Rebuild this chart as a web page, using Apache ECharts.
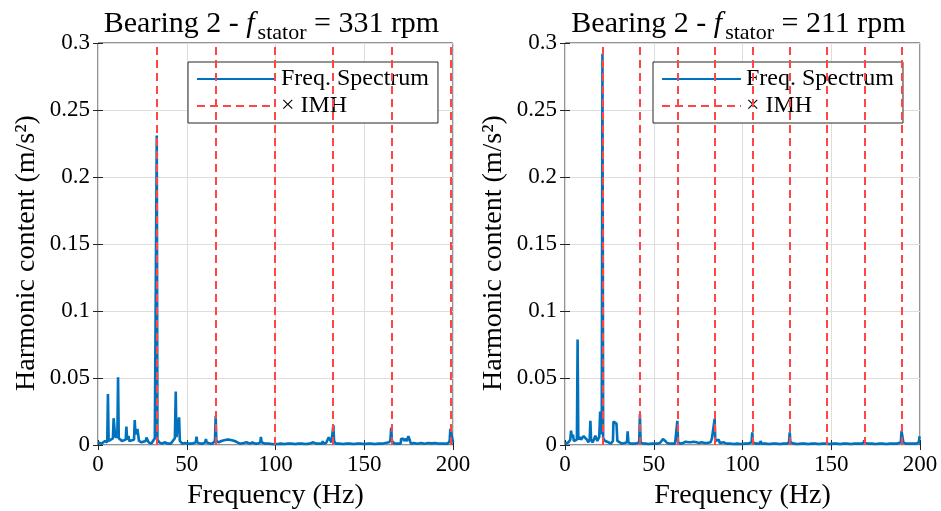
<!DOCTYPE html>
<html>
<head>
<meta charset="utf-8">
<script src="https://cdn.jsdelivr.net/npm/echarts@6/dist/echarts.min.js"></script>
<style>
html,body{margin:0;padding:0;background:#fff;}
#chart{width:941px;height:511px;}
</style>
</head>
<body>
<div id="chart"></div>
<script>
// ---------- data ----------
const xTicks = ['0', '50', '100', '150', '200'];
const yTicks = ['0', '0.05', '0.1', '0.15', '0.2', '0.25', '0.3'];
const seriesNames = ['Freq. Spectrum', '\u00d7 IMH'];
const titleRpm = ['331', '211'];

// Left: f_stator = 331 rpm
const freqL = [0,1,2,3,4,5.2,5.6,6.0,7,8.4,8.8,9.3,9.7,10.9,11.3,11.7,12.5,13.5,14.5,15.6,16.0,16.4,17.2,17.6,18.5,20.3,20.7,21.1,22.2,22.7,23.1,24.5,25.5,26.9,27.3,28.0,28.5,30,31,32.0,32.7,33.1,33.5,34.5,36,37.5,38.6,39.5,41,43.3,43.8,44.2,45.3,45.7,46.1,47.5,49,51,53,55.1,55.5,55.9,57.5,59,60.4,60.8,61.2,63,64.5,65.9,66.3,66.7,68,69.5,71,72.5,74,75.5,77,78.5,80,82,83.7,85.5,87,88.5,90,91.4,91.8,92.2,94,96,98,99.5,101,103,105,107,109,111,113,115,117,119,121.3,123,124.5,126.2,126.6,127.0,128.5,130.0,130.8,131.5,132.2,132.6,133.0,134,136,138,140,142,144,146,148,150,152,154,156,158,160,162,164,164.7,165.2,165.6,167,168.5,170.5,170.8,172,172.5,173,174,174.9,175.8,176.3,178,180,182,184,186,188,190,192.4,192.8,193.2,195,197,198.1,198.5,198.9,200];
const ampL = [0.002,0.0015,0.001,0.002,0.003,0.002,0.038,0.003,0.004,0.005,0.020,0.020,0.006,0.006,0.0505,0.005,0.004,0.003,0.002,0.004,0.0137,0.004,0.0067,0.003,0.002,0.004,0.0186,0.008,0.012,0.012,0.003,0.002,0.002,0.003,0.0055,0.005,0.002,0.001,0.002,0.005,0.005,0.231,0.004,0.002,0.001,0.002,0.003,0.001,0.001,0.005,0.040,0.006,0.006,0.0206,0.003,0.001,0.0015,0.001,0.001,0.002,0.0062,0.002,0.001,0.001,0.002,0.0045,0.002,0.001,0.001,0.003,0.0216,0.003,0.002,0.003,0.0035,0.004,0.004,0.0035,0.003,0.002,0.001,0.0015,0.002,0.001,0.002,0.001,0.001,0.002,0.006,0.002,0.001,0.001,0.0008,0.0005,0.0008,0.001,0.0008,0.001,0.001,0.0008,0.001,0.001,0.0008,0.001,0.002,0.001,0.001,0.001,0.003,0.001,0.0015,0.0057,0.0057,0.002,0.003,0.0149,0.003,0.001,0.001,0.0008,0.001,0.001,0.0008,0.001,0.001,0.0008,0.001,0.001,0.0008,0.001,0.001,0.0015,0.002,0.0035,0.013,0.003,0.001,0.001,0.001,0.0047,0.0047,0.003,0.0047,0.003,0.0065,0.0065,0.001,0.0015,0.001,0.0015,0.001,0.0015,0.0012,0.0015,0.001,0.002,0.001,0.001,0.001,0.003,0.012,0.012,0.002];
const harmL = [33.1, 66.2, 99.3, 132.4, 165.5, 198.6];

// Right: f_stator = 211 rpm
const freqR = [0,1,2,3.0,3.4,3.9,4.5,5.0,6.0,6.7,7.1,7.5,8.4,9.0,10.5,11.5,12.3,13.2,13.9,14.3,14.7,15.5,16.3,17.1,17.6,18.2,19.3,19.8,20.3,20.7,21.1,21.5,22.6,23.5,24.5,25.8,27.0,27.3,28.2,29.0,29.5,30.5,32,33.5,34.9,35.3,35.7,37,38.5,40,41.8,42.2,42.6,44,45.5,47,49,50.5,52,53.5,55.2,56.5,57.5,59,60.5,62,62.9,63.3,63.7,65,66.5,68,69.5,71,72.5,74,75.5,77,78.5,80,82.0,82.8,83.9,84.3,84.7,86.6,87.2,89.5,91,93,95,97,99,101,103,105.1,105.5,105.9,107.5,109.8,110.2,110.8,113,115,117,119,121,123,125,126.2,126.6,127.0,129,131,133,135,137,139,141,143,145,147,149,151,153,155,157,159,161,163,165,167,168.2,168.6,169.0,171,173,175,177,179,181,183,185,187,189.2,189.6,190.2,190.6,192,194,196,198,199.3,199.8,200];
const ampR = [0.001,0.002,0.002,0.004,0.0107,0.006,0.0077,0.003,0.002,0.004,0.0788,0.004,0.006,0.004,0.0067,0.0065,0.004,0.002,0.004,0.018,0.004,0.002,0.004,0.007,0.0065,0.003,0.006,0.025,0.008,0.01,0.292,0.005,0.003,0.002,0.002,0.001,0.003,0.0175,0.0175,0.016,0.003,0.002,0.001,0.0015,0.002,0.0102,0.002,0.001,0.001,0.001,0.002,0.0229,0.002,0.001,0.001,0.0008,0.001,0.001,0.001,0.0015,0.0045,0.003,0.0015,0.001,0.001,0.001,0.002,0.018,0.002,0.001,0.0015,0.0025,0.002,0.002,0.0025,0.002,0.0015,0.002,0.0015,0.0015,0.002,0.005,0.004,0.0194,0.003,0.004,0.0015,0.002,0.001,0.001,0.0008,0.001,0.0008,0.001,0.001,0.002,0.0095,0.002,0.001,0.001,0.003,0.001,0.001,0.0008,0.001,0.001,0.0008,0.001,0.001,0.002,0.0095,0.002,0.001,0.0008,0.001,0.001,0.0008,0.001,0.001,0.0008,0.001,0.001,0.0008,0.001,0.001,0.0008,0.001,0.001,0.0008,0.001,0.001,0.001,0.0015,0.0035,0.0015,0.001,0.001,0.0008,0.001,0.001,0.0008,0.001,0.001,0.001,0.002,0.0105,0.0105,0.002,0.001,0.001,0.001,0.001,0.002,0.0065,0.0065];
const harmR = [21.1, 42.2, 63.3, 84.4, 105.5, 126.6, 147.7, 168.8, 189.9];

// ---------- styling ----------
const FONT = 'Liberation Serif';
const DARK = '#262626';
const BLUE = '#0072BD';
const RED = '#ff4646';
const grids = [
  {left: 98, top: 43, width: 355, height: 402},
  {left: 565, top: 43, width: 355, height: 402}
];

function pairs(xs, ys) { return xs.map((x, i) => [x, ys[i]]); }

const option = {
  backgroundColor: '#fff',
  animation: false,
  title: grids.map((g, i) => ({
    text: '{a|Bearing 2 - }{i|f}{s|stator}{a| = ' + titleRpm[i] + ' rpm}',
    left: g.left + g.width / 2 - 9,
    textAlign: 'center',
    top: 4,
    textStyle: {
      fontWeight: 'normal',
      rich: {
        a: {fontFamily: FONT, fontSize: 30, fontWeight: 'normal', color: '#000', lineHeight: 32, verticalAlign: 'top'},
        i: {fontFamily: FONT, fontSize: 30, fontWeight: 'normal', fontStyle: 'italic', color: '#000', lineHeight: 32, verticalAlign: 'top', padding: [0, 3, 0, 0]},
        s: {fontFamily: FONT, fontSize: 22, fontWeight: 'normal', color: '#000', lineHeight: 22, verticalAlign: 'top', padding: [13, 0, 0, 0]}
      }
    }
  })),
  legend: grids.map((g, i) => ({
    orient: 'vertical',
    left: i === 0 ? 188 : 653,
    top: 62,
    data: seriesNames,
    itemWidth: 79,
    itemHeight: 14,
    itemGap: 3,
    padding: [5, 9, 5, 8],
    borderColor: DARK,
    borderWidth: 1,
    backgroundColor: '#fff',
    selectedMode: false,
    itemStyle: {opacity: 0},
    textStyle: {fontFamily: FONT, fontSize: 24, color: '#000'}
  })),
  grid: grids.map(g => Object.assign({show: true, borderColor: DARK, borderWidth: 1, backgroundColor: 'transparent', containLabel: false, outerBoundsMode: 'none'}, g)),
  xAxis: [],
  yAxis: [],
  series: []
};

grids.forEach((g, i) => {
  option.xAxis.push({
    type: 'value', gridIndex: i, min: 0, max: 200, interval: 50, position: 'bottom',
    name: 'Frequency (Hz)', nameLocation: 'middle', nameGap: 37,
    nameTextStyle: {fontFamily: FONT, fontSize: 28, color: '#000'},
    axisLine: {show: false},
    axisTick: {inside: true, length: 5, lineStyle: {color: DARK}},
    axisLabel: {fontFamily: FONT, fontSize: 23, color: '#000', margin: 8,
      formatter: v => xTicks[Math.round(v / 50)]},
    splitLine: {show: true, lineStyle: {color: '#dedede', width: 1}}
  });
  option.xAxis.push({
    type: 'value', gridIndex: i, min: 0, max: 200, interval: 50, position: 'top',
    axisLine: {show: false},
    axisTick: {inside: true, length: 5, lineStyle: {color: DARK}},
    axisLabel: {show: false}, splitLine: {show: false}
  });
  option.yAxis.push({
    type: 'value', gridIndex: i, min: 0, max: 0.3, interval: 0.05, position: 'left',
    name: 'Harmonic content (m/s\u00b2)', nameLocation: 'middle', nameGap: 57,
    nameTextStyle: {fontFamily: FONT, fontSize: 28, color: '#000', padding: [0, 18, 0, 0]},
    axisLine: {show: false},
    axisTick: {inside: true, length: 5, lineStyle: {color: DARK}},
    axisLabel: {fontFamily: FONT, fontSize: 23, color: '#000', margin: 8,
      formatter: v => yTicks[Math.round(v / 0.05)]},
    splitLine: {show: true, lineStyle: {color: '#dedede', width: 1}}
  });
  option.yAxis.push({
    type: 'value', gridIndex: i, min: 0, max: 0.3, interval: 0.05, position: 'right',
    axisLine: {show: false},
    axisTick: {inside: true, length: 5, lineStyle: {color: DARK}},
    axisLabel: {show: false}, splitLine: {show: false}
  });
});

const specData = [pairs(freqL, ampL), pairs(freqR, ampR)];
const harm = [harmL, harmR];
grids.forEach((g, i) => {
  option.series.push({
    name: seriesNames[0], type: 'line', xAxisIndex: 2 * i, yAxisIndex: 2 * i,
    data: specData[i], symbol: 'none', z: 2,
    lineStyle: {color: BLUE, width: 2.6}, itemStyle: {color: BLUE}
  });
  option.series.push({
    name: seriesNames[1], type: 'line', xAxisIndex: 2 * i, yAxisIndex: 2 * i,
    data: [], symbol: 'none', z: 3,
    lineStyle: {color: RED, width: 2, type: [8, 5]}, itemStyle: {color: RED},
    markLine: {
      silent: true, symbol: ['none', 'none'], label: {show: false},
      lineStyle: {color: RED, width: 2, type: [8, 5]},
      emphasis: {disabled: true},
      data: harm[i].map(v => ({xAxis: v}))
    }
  });
});

const chart = echarts.init(document.getElementById('chart'), null, {renderer: 'canvas'});
chart.setOption(option);
</script>
</body>
</html>
